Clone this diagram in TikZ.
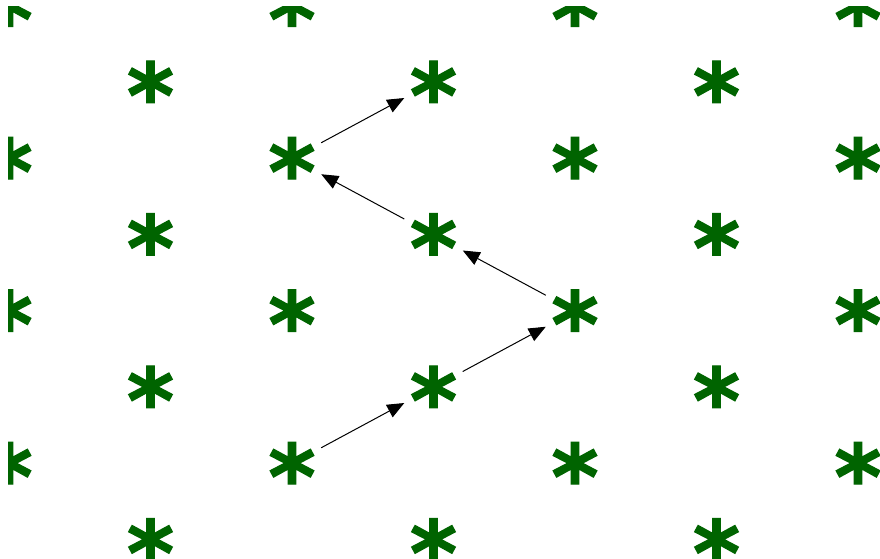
\documentclass[tikz,border=0pt]{standalone}
\usepackage{fontspec}
\newfontfamily\starfont[BoldFont={DejaVu Sans Bold}, BoldFeatures={FakeBold=1.5}]{DejaVu Sans}
\usetikzlibrary{arrows.meta}
\definecolor{stargreen}{RGB}{0,100,0}
\newcommand{\astglyph}{\makebox[0pt]{\raisebox{-45.5pt}[0pt][0pt]{*}}}
\tikzset{
  astnode/.style={circle, minimum size=66pt, inner sep=0pt, text=stargreen,
    font=\starfont\bfseries\fontsize{90}{90}\selectfont},
  link/.style={draw=black, line width=1pt, -{Triangle[length=17pt,width=14pt]}}
}
\begin{document}
\begin{tikzpicture}[x=1pt,y=-1pt]
\fill[white] (0,0) rectangle (880,559);
\useasboundingbox (0,0) rectangle (880,559);
\begin{scope}
\clip (8,7) rectangle (880,559);
\foreach \c in {0,2,4,6} \foreach \r in {0,2,4,6}
  \node[astnode] (n\c\r) at ({9+141.5*\c},{6+76.25*\r}) {\astglyph};
\foreach \c in {1,3,5} \foreach \r in {1,3,5,7}
  \node[astnode] (n\c\r) at ({9+141.5*\c},{6+76.25*\r}) {\astglyph};
\end{scope}
\draw[link] (n26) -- (n35);
\draw[link] (n35) -- (n44);
\draw[link] (n44) -- (n33);
\draw[link] (n33) -- (n22);
\draw[link] (n22) -- (n31);
\end{tikzpicture}
\end{document}
